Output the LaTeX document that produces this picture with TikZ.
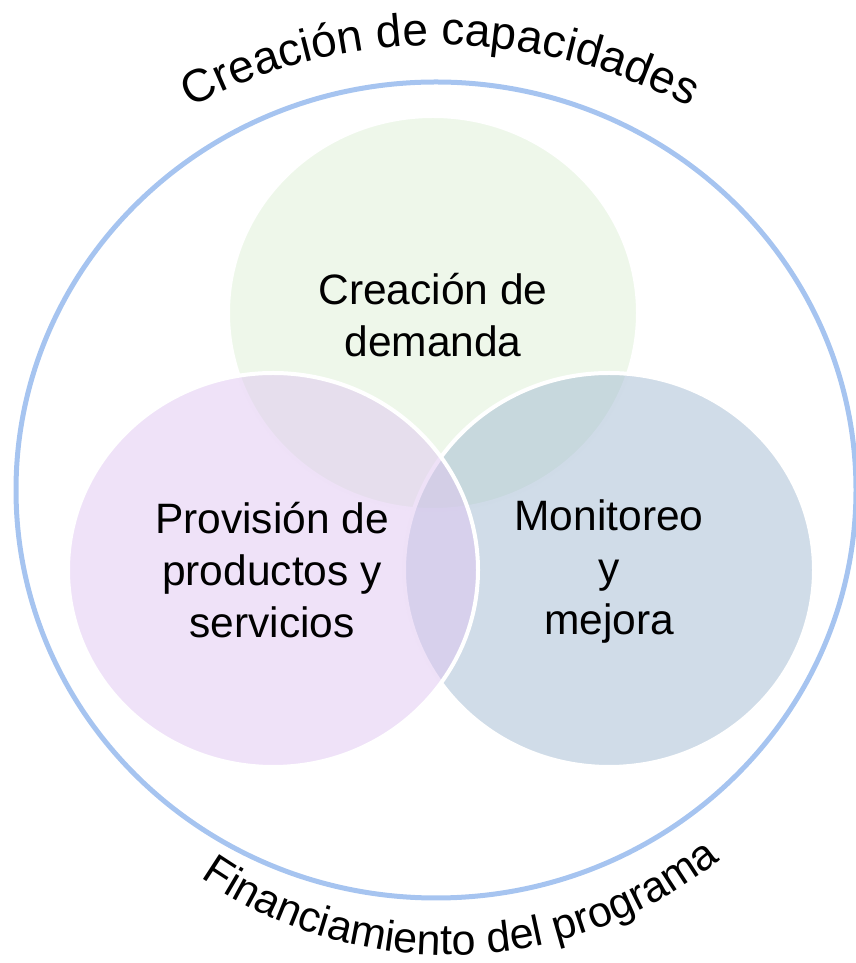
\documentclass[tikz,border=0pt]{standalone}
\usepackage{fontspec}
\setmainfont{Liberation Sans}
\usepackage{tikz}
\usetikzlibrary{decorations.text,backgrounds}
\definecolor{ringblue}{RGB}{166,196,240}
\definecolor{demgreen}{RGB}{221,239,213}
\definecolor{provpurple}{RGB}{223,197,241}
\definecolor{monblue}{RGB}{161,185,209}
\tikzstyle{venn}=[
  x=1pt,y=1pt
]
\tikzstyle{vennset}=[
  draw=white, line width=4pt, fill opacity=0.5
]
\tikzstyle{venntext}=[
  align=center, inner sep=0pt, font=\fontsize{42.5}{52}\selectfont
]
\tikzstyle{ring}=[
  draw=ringblue, line width=5pt
]
\newcommand{\arcfont}[1]{\fontsize{#1}{#1}\selectfont}

\begin{document}
\begin{tikzpicture}[venn]
      \def\rx{205pt}
      \def\ry{197pt}
      \useasboundingbox (0,0) rectangle (856,963);
        \node (dem) at (433, 648) [venntext] {Creación de\\demanda};
        \node (prov) at (272, 393) [venntext] {Provisión de\\productos y\\servicios};
        \node (mon) at (609, 391) [venntext] {Monitoreo\\y\\mejora};

        \begin{scope}[on background layer]
          \draw [ring] (436, 473) ellipse [x radius=420pt, y radius=408pt];
          \path [vennset, fill=demgreen] (433, 650) ellipse [x radius=\rx, y radius=\ry];
          \path [vennset, fill=monblue] (609, 393) ellipse [x radius=\rx, y radius=\ry];
          \path [vennset, fill=provpurple] (273, 393) ellipse [x radius=\rx, y radius=\ry];
        \end{scope}

        \path [decorate, decoration={text along path, text align=center,
            text={|\arcfont{46}|Creación de capacidades}}]
          (440, 389) ++(125:529pt) arc [start angle=125, end angle=55, radius=529pt];
        \path [decorate, decoration={text along path, text align=center,
            text={|\arcfont{43}|Financiamiento del programa}}]
          (448, 443) ++(-131:435pt) arc [start angle=-131, end angle=-45, radius=435pt];
    \end{tikzpicture}
\end{document}
